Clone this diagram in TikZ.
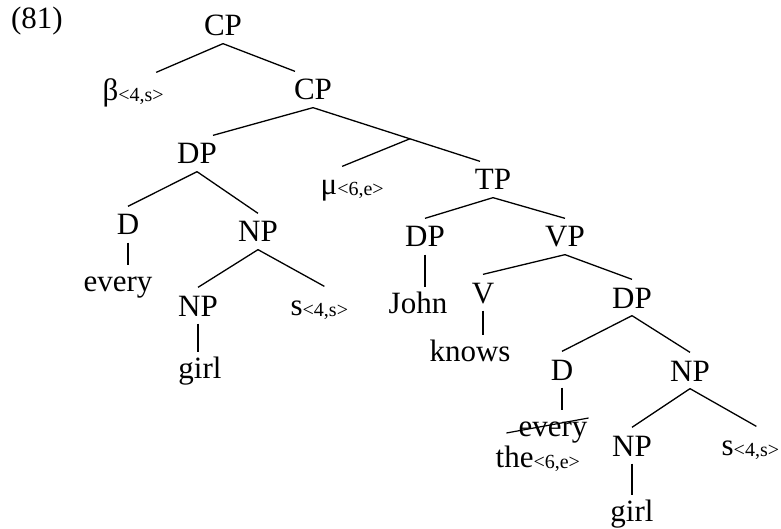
\documentclass[tikz,border=0pt]{standalone}
\usepackage{fontspec}
\setmainfont{Liberation Serif}
\newcommand{\ix}[1]{{\fontsize{20}{24}\selectfont\raisebox{-1pt}{#1}}}

\begin{document}
\begin{tikzpicture}[x=1pt, y=-1pt,
        cat/.style  = {inner xsep=2pt, inner ysep=7pt,
                       text height=21pt, text depth=0pt, anchor=base},
        catl/.style = {cat, anchor=base west, inner xsep=0pt},
        word/.style = {cat, inner ysep=4pt},
            font = \fontsize{31}{36}\selectfont,
      line width = 1.3pt
                        ]
        \useasboundingbox (0,0) rectangle (781,529);
        % example number
        \node[anchor=base] (num) at (37,29) {(81)};
        % labels
        \node[cat]  (cpa)    at (223,36)  {CP};
        \node[catl] (beta)   at (102,101) {β\ix{<4,s>}};
        \node[cat]  (cpb)    at (313,100) {CP};
        \node[cat]  (dpa)    at (197,164) {DP};
        \node[catl] (mu)     at (320,195) {μ\ix{<6,e>}};
        \node[cat]  (tp)     at (493,190) {TP};
        \node[cat]  (da)     at (128,235) {D};
        \node[cat]  (npa)    at (258,242) {NP};
        \node[word] (everya) at (118,291) {every};
        \node[cat]  (npb)    at (198,316) {NP};
        \node[catl] (sa)     at (290,315) {s\ix{<4,s>}};
        \node[word] (girla)  at (200,378) {girl};
        \node[cat]  (dpb)    at (425,247) {DP};
        \node[cat]  (vp)     at (565,247) {VP};
        \node[word] (john)   at (418,313) {John};
        \node[cat]  (v)      at (483,303) {V};
        \node[cat]  (dpc)    at (632,308) {DP};
        \node[word] (knows)  at (470,361) {knows};
        \node[cat]  (db)     at (562,380) {D};
        \node[cat]  (npc)    at (690,381) {NP};
        \node[word] (everyb) at (553,436) {every};
        \node[catl] (the)    at (495,467) {the\ix{<6,e>}};
        \node[cat]  (npd)    at (632,456) {NP};
        \node[catl] (sb)     at (721,455) {s\ix{<4,s>}};
        \node[word] (girlb)  at (632,521) {girl};

        % branches
        \draw (cpa.south) -- ([xshift=23pt]beta.north);
        \draw (cpa.south) -- ([xshift=-18pt]cpb.north);
        \draw (cpb.south) -- ([xshift=16pt]dpa.north);
        \draw (cpb.south) -- coordinate[pos=0.58] (mid) ([xshift=-13pt]tp.north);
        \draw (mid) -- ([xshift=-10pt]mu.north);
        \draw (dpa.south) -- (da.north);
        \draw (dpa.south) -- (npa.north);
        \draw (da.south) -- (da.south |- everya.north);
        \draw (npa.south) -- (npb.north);
        \draw (npa.south) -- ([xshift=5pt]sa.north);
        \draw (npb.south) -- (npb.south |- girla.north);
        \draw (tp.south) -- (dpb.north);
        \draw (tp.south) -- (vp.north);
        \draw (dpb.south) -- (dpb.south |- john.north);
        \draw (vp.south) -- (v.north);
        \draw (vp.south) -- (dpc.north);
        \draw (v.south) -- (v.south |- knows.north);
        \draw (dpc.south) -- (db.north);
        \draw (dpc.south) -- (npc.north);
        \draw (db.south) -- (db.south |- everyb.north);
        \draw (npc.south) -- (npd.north);
        \draw (npc.south) -- ([xshift=6pt]sb.north);
        \draw (npd.south) -- (npd.south |- girlb.north);
        % struck out determiner
        \draw[line width=1.2pt] ([xshift=-9.5pt,yshift=3pt]everyb.base west)
            -- ([xshift=-1.5pt,yshift=18pt]everyb.base east);
\end{tikzpicture}
\end{document}
